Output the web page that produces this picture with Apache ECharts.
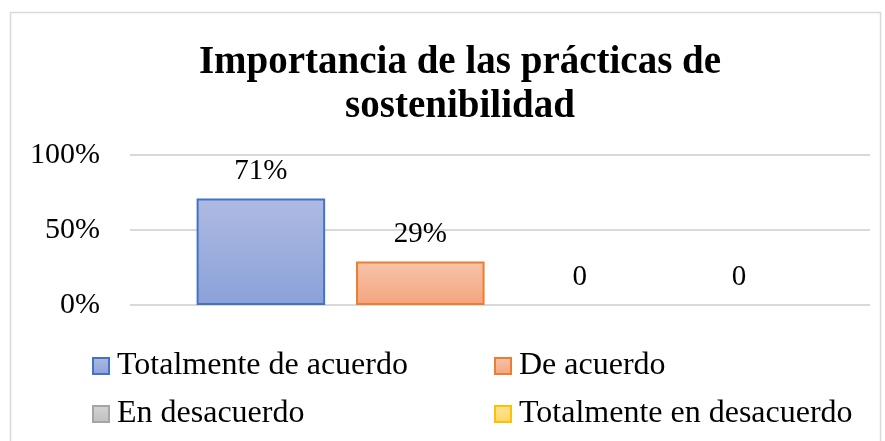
<!DOCTYPE html>
<html>
<head>
<meta charset="utf-8">
<script src="https://cdn.jsdelivr.net/npm/echarts@6/dist/echarts.min.js"></script>
<style>
  html, body { margin: 0; padding: 0; background: #fff; }
  #container { width: 885px; height: 441px; }
</style>
</head>
<body>
<div id="container"></div>
<script>
// datos del grafico
var categorias = ['Importancia'];
var nombres = ['Totalmente de acuerdo', 'De acuerdo', 'En desacuerdo', 'Totalmente en desacuerdo'];
var valores = [0.71, 0.29, 0, 0];
var ticksY = [0, 0.5, 1];

var colores = [
    {top: '#aebbe2', bottom: '#8aa1d8', borde: '#4472c4'},
    {top: '#f7c4ab', bottom: '#f4a47e', borde: '#ed7d31'},
    {top: '#d4d4d4', bottom: '#bfbfbf', borde: '#a5a5a5'},
    {top: '#ffe49a', bottom: '#ffd766', borde: '#ffc000'}
];
var fuente = '"Liberation Serif", "Times New Roman", serif';

function pct(v){
    return Math.round(v * 100) + '%';
}

function degradado(c){
    return new echarts.graphic.LinearGradient(0, 0, 0, 1, [
        {offset: 0, color: c.top},
        {offset: 1, color: c.bottom}
    ]);
}

var dom = document.getElementById("container");
var myChart = echarts.init(dom);

var series = [];
for (var i = 0; i < nombres.length; i++) {
    var c = colores[i];
    series.push({
        name: nombres[i],
        type: 'bar',
        barGap: '24%',
        barCategoryGap: '18%',
        data: [valores[i]],
        itemStyle: {
            color: degradado(c),
            borderColor: c.borde,
            borderWidth: valores[i] > 0 ? 2 : 0  // sin linea para barras en 0
        },
        label: {
            show: true,
            position: 'top',
            distance: 13,
            fontFamily: fuente,
            fontSize: 29,
            color: '#000',
            formatter: function (p) {
                return p.value === 0 ? '0' : pct(p.value);
            }
        }
    });
}

// leyenda en 2 columnas
var posLeyenda = [
    {left: 92, top: 350},
    {left: 494, top: 350},
    {left: 92, top: 398},
    {left: 494, top: 398}
];
var leyendas = [];
for (var j = 0; j < nombres.length; j++) {
    leyendas.push({
        data: [{
            name: nombres[j],
            icon: 'rect',
            itemStyle: {color: degradado(colores[j]), borderColor: colores[j].borde, borderWidth: 2}
        }],
        left: posLeyenda[j].left,
        top: posLeyenda[j].top,
        itemWidth: 16,
        itemHeight: 16,
        padding: 0,
        textStyle: {fontFamily: fuente, fontSize: 32, color: '#000', padding: [0, 0, 0, 3]},
        selectedMode: false
    });
}

var option = {
    animation: false,
    title: {
        text: 'Importancia de las prácticas de\nsostenibilidad',
        left: 455,
        textAlign: 'center',
        top: 36,
        textStyle: {
            fontFamily: fuente,
            fontSize: 39,
            fontWeight: 'bold',
            color: '#000',
            lineHeight: 44
        }
    },
    legend: leyendas,
    grid: {
        left: 130,
        right: 15,
        top: 155,
        bottom: 136
    },
    xAxis: {
        type: 'category',
        data: categorias,
        axisLine: {show: false},
        axisTick: {show: false},
        axisLabel: {show: false}
    },
    yAxis: {
        type: 'value',
        min: ticksY[0],
        max: ticksY[ticksY.length - 1],
        interval: ticksY[1] - ticksY[0],
        axisLabel: {
            formatter: pct,
            fontFamily: fuente,
            fontSize: 30,
            color: '#000',
            margin: 30
        },
        splitLine: {lineStyle: {color: '#d9d9d9', width: 2}}
    },
    graphic: [{
        type: 'rect',
        shape: {x: 10.5, y: 12.5, width: 870, height: 440},
        style: {fill: 'none', stroke: '#d9d9d9', lineWidth: 1.5},
        silent: true
    }],
    series: series
};

myChart.setOption(option, true);
</script>
</body>
</html>
